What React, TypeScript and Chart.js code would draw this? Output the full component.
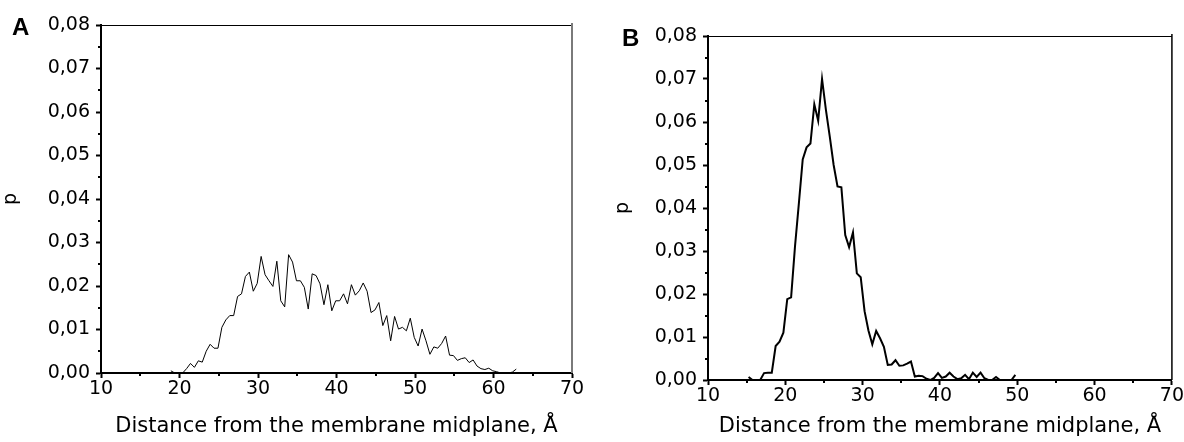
import React, { useEffect, useRef } from "react";
import { Chart, registerables } from "chart.js";

Chart.register(...registerables);

// ---------- data ----------
const distanceA = [
  18.9, 19.4, 19.9, 20.4, 20.9, 21.4, 21.9, 22.4, 22.9, 23.4, 23.9, 24.4, 24.9, 25.4, 25.9,
  26.4, 26.9, 27.4, 27.9, 28.4, 28.9, 29.4, 29.9, 30.4, 30.9, 31.4, 31.9, 32.4, 32.9, 33.4,
  33.9, 34.4, 34.9, 35.4, 35.9, 36.4, 36.9, 37.4, 37.9, 38.4, 38.9, 39.4, 39.9, 40.4, 40.9,
  41.4, 41.9, 42.4, 42.9, 43.4, 43.9, 44.4, 44.9, 45.4, 45.9, 46.4, 46.9, 47.4, 47.9, 48.4,
  48.9, 49.4, 49.9, 50.4, 50.9, 51.4, 51.9, 52.4, 52.9, 53.4, 53.9, 54.4, 54.9, 55.4, 55.9,
  56.4, 56.9, 57.4, 57.9, 58.4, 58.9, 59.4, 59.9, 60.4, 60.9, 61.4, 61.9, 62.4, 62.9,
];
const densityA = [
  0.0005, 0.0, 0.0, 0.0, 0.001, 0.0022, 0.0013, 0.0028, 0.0025, 0.005, 0.0066, 0.0057, 0.0057, 0.0105, 0.0122,
  0.0132, 0.0132, 0.0176, 0.0182, 0.0222, 0.0232, 0.0188, 0.0206, 0.0268, 0.0226, 0.0212, 0.0199, 0.0257, 0.0166, 0.0152,
  0.0272, 0.0255, 0.0212, 0.0212, 0.0197, 0.0147, 0.0228, 0.0224, 0.0205, 0.0157, 0.0203, 0.0143, 0.0166, 0.0166, 0.0182,
  0.0159, 0.0203, 0.0179, 0.0189, 0.0207, 0.0188, 0.0139, 0.0145, 0.0162, 0.0109, 0.0132, 0.0074, 0.013, 0.0101, 0.0105,
  0.0097, 0.0126, 0.0082, 0.0062, 0.0101, 0.0074, 0.0043, 0.006, 0.0057, 0.0068, 0.0085, 0.0041, 0.004, 0.0029, 0.0033,
  0.0035, 0.0024, 0.003, 0.0016, 0.001, 0.0008, 0.0011, 0.0005, 0.0003, 0.0, 0.0, 0.0, 0.0002, 0.0009,
];

const distanceB = [
  15.25, 15.75, 16.25, 16.75, 17.25, 17.75, 18.25, 18.75, 19.25, 19.75, 20.25, 20.75, 21.25, 21.75,
  22.25, 22.75, 23.25, 23.75, 24.25, 24.75, 25.25, 25.75, 26.25, 26.75, 27.25, 27.75, 28.25, 28.75,
  29.25, 29.75, 30.25, 30.75, 31.25, 31.75, 32.25, 32.75, 33.25, 33.75, 34.25, 34.75, 35.25, 35.75,
  36.25, 36.75, 37.25, 37.75, 38.25, 38.75, 39.25, 39.75, 40.25, 40.75, 41.25, 41.75, 42.25, 42.75,
  43.25, 43.75, 44.25, 44.75, 45.25, 45.75, 46.25, 46.75, 47.25, 47.75, 48.25, 48.75, 49.25, 49.75,
];
const densityB = [
  0.0007, 0.0, 0.0, 0.0, 0.0016, 0.0017, 0.0017, 0.0079, 0.0089, 0.011, 0.0188, 0.0192, 0.031, 0.041,
  0.0513, 0.0541, 0.055, 0.0641, 0.0603, 0.07, 0.0628, 0.0566, 0.05, 0.045, 0.0448, 0.0337, 0.0309, 0.0343,
  0.0248, 0.0239, 0.016, 0.0115, 0.0083, 0.0114, 0.0097, 0.0077, 0.0035, 0.0036, 0.0046, 0.0033, 0.0034, 0.0038,
  0.0043, 0.0008, 0.001, 0.0009, 0.0003, 0.0, 0.0005, 0.0016, 0.0005, 0.0008, 0.0017, 0.0008, 0.0002, 0.0004,
  0.0012, 0.0002, 0.0017, 0.0007, 0.0017, 0.0004, 0.0, 0.0, 0.0007, 0.0, 0.0, 0.0, 0.0, 0.0012,
];

const xMinorTicks = [15, 25, 35, 45, 55, 65];
const yMinorTicks = [0.005, 0.015, 0.025, 0.035, 0.045, 0.055, 0.065, 0.075];

const xTitle = "Distance from the membrane midplane, Å";
const yTitle = "p";

// ---------- chart ----------
const FONT = "DejaVu Sans";

type PanelCfg = {
  xs: number[];
  ys: number[];
  left: number;
  width: number;
  padding: { left: number; top: number; right: number; bottom: number };
  yAxisWidth: number;
  xAxisHeight: number;
  lineWidth: number;
  rightColor: string;
  rightWidth: number;
  letter: string;
  letterX: number;
  letterY: number;
};

function framePlugin(cfg: PanelCfg) {
  return {
    id: "frame" + cfg.letter,
    afterDraw(chart: any) {
      const { ctx, chartArea: a } = chart;
      const xs = chart.scales.x;
      const ys = chart.scales.y;
      ctx.save();
      // top frame line
      ctx.strokeStyle = "#000";
      ctx.lineWidth = 1.2;
      ctx.beginPath();
      ctx.moveTo(a.left, a.top + 0.5);
      ctx.lineTo(a.right, a.top + 0.5);
      ctx.stroke();
      // right frame line
      ctx.strokeStyle = cfg.rightColor;
      ctx.lineWidth = cfg.rightWidth;
      ctx.beginPath();
      ctx.moveTo(a.right, a.top - 2);
      ctx.lineTo(a.right, a.bottom);
      ctx.stroke();
      // minor ticks
      ctx.strokeStyle = "#000";
      ctx.lineWidth = 2;
      ctx.beginPath();
      for (const v of xMinorTicks) {
        const px = Math.round(xs.getPixelForValue(v));
        ctx.moveTo(px, a.bottom);
        ctx.lineTo(px, a.bottom + 3);
      }
      for (const v of yMinorTicks) {
        const py = Math.round(ys.getPixelForValue(v));
        ctx.moveTo(a.left, py);
        ctx.lineTo(a.left - 3, py);
      }
      ctx.stroke();
      // panel letter
      ctx.fillStyle = "#000";
      ctx.font = 'bold 24px "Liberation Sans", Arial, sans-serif';
      ctx.textBaseline = "alphabetic";
      ctx.textAlign = "left";
      ctx.fillText(cfg.letter, cfg.letterX, cfg.letterY);
      ctx.restore();
    },
  };
}

function buildConfig(cfg: PanelCfg): any {
  const tickFont = { family: FONT, size: 19 };
  const titleFont = { family: FONT, size: 21 };
  return {
    type: "line",
    data: {
      datasets: [
        {
          data: cfg.xs.map((x, i) => ({ x, y: cfg.ys[i] })),
          borderColor: "#000",
          borderWidth: cfg.lineWidth,
          pointRadius: 0,
          tension: 0,
          fill: false,
        },
      ],
    },
    options: {
      responsive: false,
      maintainAspectRatio: false,
      animation: false,
      events: [],
      layout: { padding: cfg.padding },
      plugins: { legend: { display: false }, tooltip: { enabled: false }, title: { display: false } },
      scales: {
        x: {
          type: "linear",
          min: 10,
          max: 70,
          ticks: { stepSize: 10, font: tickFont, color: "#000", padding: 0, maxRotation: 0, autoSkip: false },
          grid: { display: true, drawOnChartArea: false, drawTicks: true, tickLength: 5, tickColor: "#000", tickWidth: 2 },
          border: { display: true, color: "#000", width: 2 },
          title: { display: true, text: xTitle, font: titleFont, color: "#000", padding: { top: 0, bottom: 3 } },
          afterFit: (s: any) => {
            s.height = cfg.xAxisHeight;
          },
        },
        y: {
          type: "linear",
          min: 0,
          max: 0.08,
          ticks: {
            stepSize: 0.01,
            font: tickFont,
            color: "#000",
            padding: 6,
            callback: (v: any) => Number(v).toFixed(2).replace(".", ","),
          },
          grid: { display: true, drawOnChartArea: false, drawTicks: true, tickLength: 5, tickColor: "#000", tickWidth: 2 },
          border: { display: true, color: "#000", width: 2 },
          title: { display: true, text: yTitle, font: { family: FONT, size: 19 }, color: "#000", padding: { top: 0, bottom: 0 } },
          afterFit: (s: any) => {
            s.width = cfg.yAxisWidth;
          },
        },
      },
    },
    plugins: [framePlugin(cfg)],
  };
}

function Panel({ cfg }: { cfg: PanelCfg }) {
  const ref = useRef<HTMLCanvasElement>(null);
  useEffect(() => {
    const chart = new Chart(ref.current as HTMLCanvasElement, buildConfig(cfg));
    return () => chart.destroy();
  }, []);
  return (
    <canvas
      ref={ref}
      width={cfg.width}
      height={442}
      style={{ position: "absolute", left: cfg.left, top: 0, width: cfg.width, height: 442, display: "block" }}
    />
  );
}

const panelA: PanelCfg = {
  xs: distanceA,
  ys: densityA,
  left: 0,
  width: 592,
  padding: { left: 0, top: 25, right: 20, bottom: 0 },
  yAxisWidth: 101,
  xAxisHeight: 69,
  lineWidth: 1,
  rightColor: "#7a7a7a",
  rightWidth: 2,
  letter: "A",
  letterX: 12,
  letterY: 35,
};

const panelB: PanelCfg = {
  xs: distanceB,
  ys: densityB,
  left: 592,
  width: 592,
  padding: { left: 20, top: 36, right: 12, bottom: 0 },
  yAxisWidth: 96,
  xAxisHeight: 62,
  lineWidth: 2,
  rightColor: "#000",
  rightWidth: 1.5,
  letter: "B",
  letterX: 30,
  letterY: 46,
};

export default function App() {
  return (
    <div style={{ position: "absolute", left: 0, top: 0, width: 1184, height: 442, background: "#fff", overflow: "hidden" }}>
      <Panel cfg={panelA} />
      <Panel cfg={panelB} />
    </div>
  );
}
